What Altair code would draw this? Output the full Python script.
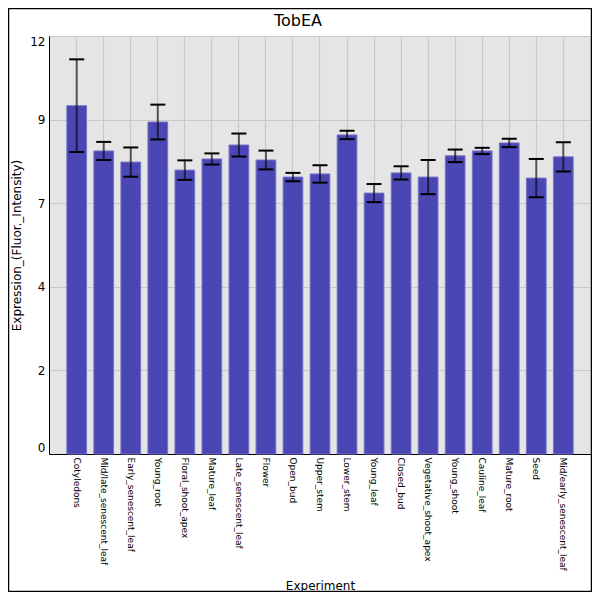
import altair as alt
import pandas as pd

experiments = [
    "Cotyledons", "Mid/late_senescent_leaf", "Early_senescent_leaf", "Young_root",
    "Floral_shoot_apex", "Mature_leaf", "Late_senescent_leaf", "Flower", "Open_bud",
    "Upper_stem", "Lower_stem", "Young_leaf", "Closed_bud", "Vegetative_shoot_apex",
    "Young_shoot", "Cauline_leaf", "Mature_root", "Seed", "Mid/early_senescent_leaf",
]
means = [10.0, 8.70, 8.38, 9.53, 8.15, 8.47, 8.87, 8.44, 7.95, 8.04,
         9.16, 7.49, 8.07, 7.95, 8.56, 8.70, 8.93, 7.92, 8.53]
errors = [1.33, 0.26, 0.42, 0.50, 0.28, 0.16, 0.33, 0.27, 0.12, 0.25,
          0.12, 0.26, 0.19, 0.49, 0.18, 0.09, 0.12, 0.55, 0.42]
y_ticks = [0, 2.4, 4.8, 7.2, 9.6, 12]
chart_title = "TobEA"

df = pd.DataFrame({"Experiment": experiments, "mean": means, "err": errors})
df["lo"] = df["mean"] - df["err"]
df["hi"] = df["mean"] + df["err"]

FONT = "DejaVu Sans"

x_axis = alt.Axis(
    title="Experiment", labelAngle=90, labelFontSize=9, labelFont=FONT,
    labelColor="black", ticks=False, grid=True, bandPosition=0.5,
    gridColor="#c8c8c8", gridWidth=1.2, domainColor="black", domainWidth=1,
    labelPadding=3, titleFont=FONT, titleFontSize=12, titleFontWeight="normal",
    titleColor="black", titleY=135, titleBaseline="alphabetic",
)
x_scale = alt.Scale(paddingInner=0.27, paddingOuter=0.66)

y_axis = alt.Axis(
    title="Expression_(Fluor._Intensity)", values=y_ticks,
    labelExpr="floor(datum.value)", ticks=False, labelFlush=True,
    labelFont=FONT, labelFontSize=12, labelColor="black", labelPadding=4,
    grid=True, gridColor="#c8c8c8", gridWidth=1.2, domainColor="black", domainWidth=1,
    titleFont=FONT, titleFontSize=12, titleFontWeight="normal",
    titleColor="black", titleX=-26, titleBaseline="bottom",
)
y_scale = alt.Scale(domain=[0, 12], nice=False, zero=True)


def xe():
    return alt.X("Experiment:N", sort=experiments, scale=x_scale, axis=x_axis)


def ye(field):
    return alt.Y(field, scale=y_scale, axis=y_axis)


base = alt.Chart(df)

bars = base.mark_bar(color="#4a46b4", stroke="#7773c8", strokeWidth=1).encode(
    x=xe(), y=ye("mean:Q")
)
rules = base.mark_rule(color="black", opacity=0.6, strokeWidth=2).encode(
    x=xe(), y=ye("lo:Q"), y2="hi:Q"
)
caps_lo = base.mark_tick(color="black", opacity=1, thickness=2, size=15).encode(
    x=xe(), y=ye("lo:Q")
)
caps_hi = base.mark_tick(color="black", opacity=1, thickness=2, size=15).encode(
    x=xe(), y=ye("hi:Q")
)

deco = alt.Chart(pd.DataFrame({"t": [chart_title]}))
frame = deco.mark_rect(fillOpacity=0, stroke="black", strokeWidth=1.5).encode(
    x=alt.value(-40.5), x2=alt.value(542.5), y=alt.value(-27.5), y2=alt.value(555.5)
)
title = deco.mark_text(
    font=FONT, fontSize=16, color="black", align="center", baseline="alphabetic"
).encode(text="t:N", x=alt.value(249), y=alt.value(-10))

chart = alt.layer(bars, rules, caps_lo, caps_hi, frame, title).properties(
    width=542,
    height=418,
    autosize=alt.AutoSizeParams(type="none"),
    padding={"left": 41, "top": 28, "right": 1, "bottom": 138},
).configure_view(fill="#e5e5e5", stroke="transparent")

chart.save("out.html", embed_options={"renderer": "svg", "actions": False})
